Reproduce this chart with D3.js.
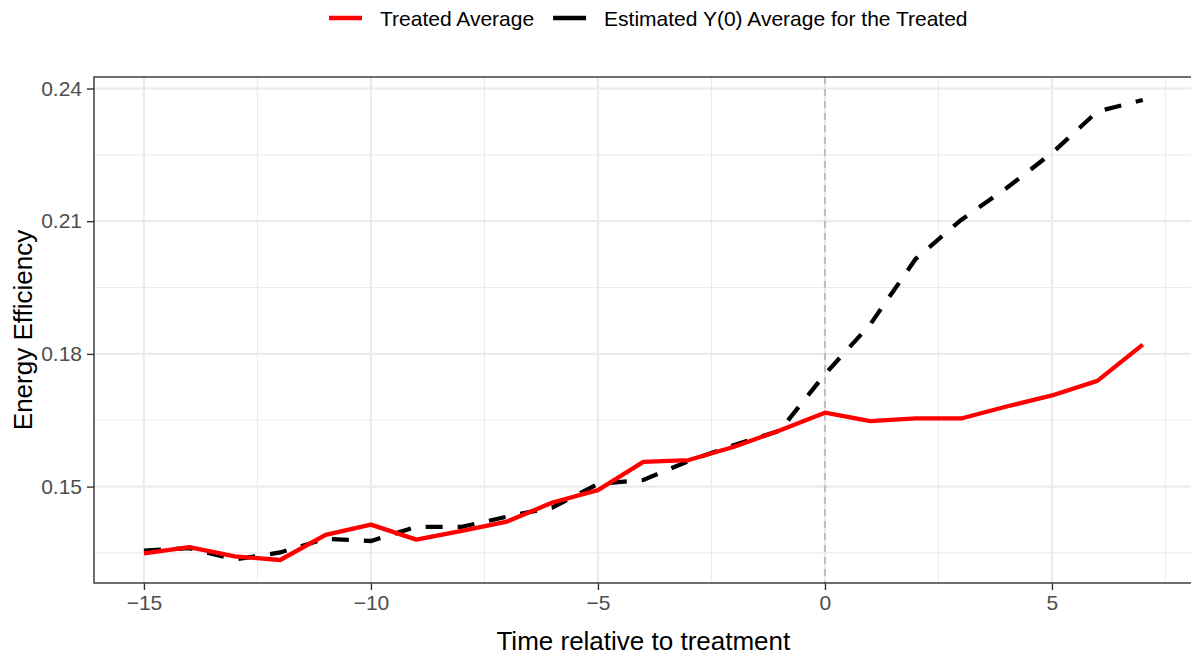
<!DOCTYPE html>
<html>
<head>
<meta charset="utf-8">
<script src="https://cdn.jsdelivr.net/npm/d3@7"></script>
<style>
  body { margin: 0; background: #fff; }
  svg { display: block; font-family: "Liberation Sans", Arial, sans-serif; }
</style>
</head>
<body>
<div id="chart"></div>
<script>
// Time relative to treatment
const periods = [-15, -14, -13, -12, -11, -10, -9, -8, -7, -6, -5, -4, -3, -2, -1, 0, 1, 2, 3, 4, 5, 6, 7];
// Treated Average
const treated = [0.1349, 0.1363, 0.1342, 0.1334, 0.1391, 0.1414, 0.1380, 0.1400, 0.1421, 0.1464, 0.1492,
    0.1556, 0.1560, 0.1590, 0.1627, 0.1667, 0.1648, 0.1654, 0.1654, 0.1681, 0.1706, 0.1739, 0.1821];
// Estimated Y(0) Average for the Treated
const counterfactual = [0.1355, 0.1361, 0.1335, 0.1351, 0.1382, 0.1377, 0.1409, 0.1409, 0.1432, 0.1453, 0.1506,
    0.1515, 0.1558, 0.1594, 0.1626, 0.1754, 0.1867, 0.2015, 0.2103, 0.2175, 0.2254, 0.2348, 0.2374];
const xTicks = [-15, -10, -5, 0, 5];
const xMinor = [-12.5, -7.5, -2.5, 2.5, 7.5];
const yTicks = [0.15, 0.18, 0.21, 0.24];
const yMinor = [0.135, 0.165, 0.195, 0.225];
const legendItems = [
    {label: "Treated Average", color: "#FF0000", dash: null},
    {label: "Estimated Y(0) Average for the Treated", color: "#000000", dash: "16,16"}
];

const width = 1191;
const height = 657;
const marginTop = 77;
const marginBottom = 74;
const panelLeft = 94;
const panelRight = 1192.7; // panel runs slightly past the window edge

const svg = d3.select("#chart")
    .append("svg")
    .attr("width", width)
    .attr("height", height);

// scales with ggplot-like 5% expansion
const xExt = d3.extent(periods);
const xPad = (xExt[1] - xExt[0]) * 0.05;
const x = d3.scaleLinear()
    .domain([xExt[0] - xPad, xExt[1] + xPad])
    .range([panelLeft, panelRight]);

const yExt = d3.extent(treated.concat(counterfactual));
const yPad = (yExt[1] - yExt[0]) * 0.05;
const y = d3.scaleLinear()
    .domain([yExt[0] - yPad, yExt[1] + yPad])
    .range([height - marginBottom, marginTop]);

// grid
const grid = svg.append("g").attr("stroke", "#ebebeb").attr("fill", "none");
grid.selectAll(".xminor").data(xMinor).join("line")
    .attr("x1", d => x(d)).attr("x2", d => x(d))
    .attr("y1", marginTop).attr("y2", height - marginBottom)
    .attr("stroke-width", 1.1);
grid.selectAll(".yminor").data(yMinor).join("line")
    .attr("y1", d => y(d)).attr("y2", d => y(d))
    .attr("x1", panelLeft).attr("x2", panelRight)
    .attr("stroke-width", 1.1);
grid.selectAll(".xmajor").data(xTicks).join("line")
    .attr("x1", d => x(d)).attr("x2", d => x(d))
    .attr("y1", marginTop).attr("y2", height - marginBottom)
    .attr("stroke-width", 2.2);
grid.selectAll(".ymajor").data(yTicks).join("line")
    .attr("y1", d => y(d)).attr("y2", d => y(d))
    .attr("x1", panelLeft).attr("x2", panelRight)
    .attr("stroke-width", 2.2);

// treatment line
svg.append("line")
    .attr("x1", x(0)).attr("x2", x(0))
    .attr("y1", marginTop).attr("y2", height - marginBottom)
    .attr("stroke", "#bebebe")
    .attr("stroke-width", 2)
    .attr("stroke-dasharray", "7,5");

const line = d3.line()
    .x((d, i) => x(periods[i]))
    .y(d => y(d));

svg.append("path")
    .datum(counterfactual)
    .attr("fill", "none")
    .attr("stroke", "#000")
    .attr("stroke-width", 4.3)
    .attr("stroke-dasharray", "17,15")
    .attr("d", line);

svg.append("path")
    .datum(treated)
    .attr("fill", "none")
    .attr("stroke", "#FF0000")
    .attr("stroke-width", 4.3)
    .attr("stroke-linejoin", "round")
    .attr("d", line);

// panel border
svg.append("rect")
    .attr("x", panelLeft).attr("y", marginTop)
    .attr("width", panelRight - panelLeft)
    .attr("height", height - marginBottom - marginTop)
    .attr("fill", "none")
    .attr("stroke", "#333")
    .attr("stroke-width", 1.4);

// axes
const xAxis = svg.append("g")
    .attr("transform", `translate(0,${height - marginBottom})`)
    .call(d3.axisBottom(x).tickValues(xTicks).tickSize(7).tickPadding(5)
        .tickFormat(d => d < 0 ? "\u2212" + Math.abs(d) : d));
const yAxis = svg.append("g")
    .attr("transform", `translate(${panelLeft},0)`)
    .call(d3.axisLeft(y).tickValues(yTicks).tickSize(7).tickPadding(5).tickFormat(d3.format(".2f")));

[xAxis, yAxis].forEach(g => {
    g.select(".domain").remove();
    g.selectAll(".tick line").attr("stroke", "#333").attr("stroke-width", 1.4);
    g.selectAll(".tick text").attr("fill", "#4d4d4d").style("font-size", "21px");
});

// axis titles
svg.append("text")
    .attr("x", (panelLeft + panelRight) / 2)
    .attr("y", 650)
    .attr("text-anchor", "middle")
    .style("font-size", "26px")
    .text("Time relative to treatment");

svg.append("text")
    .attr("transform", `translate(32,${(marginTop + height - marginBottom) / 2}) rotate(-90)`)
    .attr("text-anchor", "middle")
    .style("font-size", "26px")
    .text("Energy Efficiency");

// legend
const legend = svg.append("g").attr("transform", "translate(329,18)");
let offset = 0;
legendItems.forEach(item => {
    const g = legend.append("g").attr("transform", `translate(${offset},0)`);
    g.append("line")
        .attr("x1", 0).attr("x2", 33)
        .attr("stroke", item.color)
        .attr("stroke-width", 4.3);
    const t = g.append("text")
        .attr("x", 51).attr("y", 7.5)
        .style("font-size", "21px")
        .text(item.label);
    offset += 51 + t.node().getComputedTextLength() + 19;
});
</script>
</body>
</html>
